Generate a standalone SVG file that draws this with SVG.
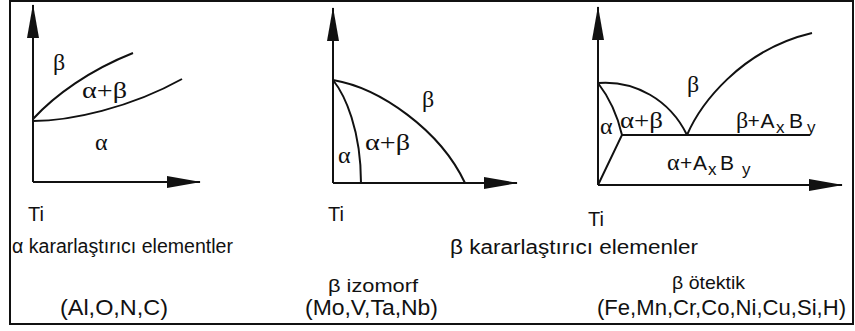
<svg xmlns="http://www.w3.org/2000/svg" width="855" height="331" viewBox="0 0 855 331">
<style>
.ln{fill:none;stroke:#111;stroke-width:2}
.ax{fill:none;stroke:#111;stroke-width:2;marker-end:url(#ah)}
.g{font-family:"Liberation Serif","Times New Roman",serif;font-size:24px;fill:#111}
.s{font-family:"Liberation Sans",Arial,sans-serif;font-size:20px;fill:#111}
.m{font-family:"Liberation Sans",Arial,sans-serif;font-size:19px;fill:#111}
.b{font-family:"Liberation Sans",Arial,sans-serif;font-size:22px;fill:#111}
.f{font-family:"Liberation Sans",Arial,sans-serif;font-size:21px;fill:#111}
.sub{font-family:"Liberation Sans",Arial,sans-serif;font-size:17px;fill:#111}
</style>
<defs>
<marker id="ah" markerUnits="userSpaceOnUse" markerWidth="34" markerHeight="14" viewBox="0 0 34 14" refX="33" refY="7" orient="auto">
<path d="M0,1 L34,7 L0,13 Z" fill="#111"/>
</marker>
</defs>
<rect width="855" height="331" fill="#fff"/>
<rect x="10" y="1" width="843" height="323" fill="none" stroke="#111" stroke-width="2"/>

<g id="panel1">
<path class="ax" d="M33,182 V5"/>
<path class="ax" d="M33,182 H200"/>
<path class="ln" d="M33,119 C55,95 90,70 133,53"/>
<path class="ln" d="M33,121 C70,121 130,108 182,79"/>
<text class="g" x="53" y="70">β</text>
<text class="g" x="82" y="98" textLength="45" lengthAdjust="spacingAndGlyphs">α+β</text>
<text class="g" x="95" y="150">α</text>
<text class="s" x="28" y="221">Ti</text>
<text class="s" x="12" y="253" textLength="221" lengthAdjust="spacingAndGlyphs">α kararlaştırıcı elementler</text>
<text class="b" x="60" y="315" textLength="108" lengthAdjust="spacingAndGlyphs">(Al,O,N,C)</text>
</g>

<g id="panel2">
<path class="ax" d="M333,183 V8"/>
<path class="ax" d="M333,183 H517"/>
<path class="ln" d="M333,80 C380,88 440,130 465,183"/>
<path class="ln" d="M333,80 C345,95 361,130 361,183"/>
<text class="g" x="422" y="107">β</text>
<text class="g" x="365" y="150" textLength="45" lengthAdjust="spacingAndGlyphs">α+β</text>
<text class="g" x="338" y="163">α</text>
<text class="s" x="328" y="221">Ti</text>
<text class="m" x="328" y="292" textLength="90" lengthAdjust="spacingAndGlyphs">β izomorf</text>
<text class="b" x="305" y="315" textLength="133" lengthAdjust="spacingAndGlyphs">(Mo,V,Ta,Nb)</text>
</g>

<g id="panel3">
<path class="ax" d="M598,185 V7"/>
<path class="ax" d="M598,185 H842"/>
<path class="ln" d="M598,83 C635,80 670,100 687,135"/>
<path class="ln" d="M687,135 C700,105 740,50 812,33"/>
<path class="ln" d="M598,83 Q615,105 622,135 L598,185"/>
<path class="ln" d="M622,135 H810"/>
<text class="g" x="687" y="92">β</text>
<text class="g" x="620" y="128" textLength="43" lengthAdjust="spacingAndGlyphs">α+β</text>
<text class="g" x="600" y="134">α</text>
<text y="128"><tspan class="g" x="736">β</tspan><tspan class="f" x="747.5">+</tspan><tspan class="f" x="760.5">A</tspan><tspan class="sub" x="776" y="133">x</tspan><tspan class="f" x="789" y="128">B</tspan><tspan class="sub" x="807" y="133">y</tspan></text>
<text y="170"><tspan class="g" x="667">α</tspan><tspan class="f" x="680">+</tspan><tspan class="f" x="693">A</tspan><tspan class="sub" x="708" y="175">x</tspan><tspan class="f" x="720" y="170">B</tspan><tspan class="sub" x="742" y="175">y</tspan></text>
<text class="s" x="588" y="226">Ti</text>
<text class="s" x="450" y="254" textLength="248" lengthAdjust="spacingAndGlyphs">β kararlaştırıcı elemenler</text>
<text class="m" x="672" y="289" textLength="73" lengthAdjust="spacingAndGlyphs">β ötektik</text>
<text class="b" x="597" y="315" textLength="249" lengthAdjust="spacingAndGlyphs">(Fe,Mn,Cr,Co,Ni,Cu,Si,H)</text>
</g>
</svg>
